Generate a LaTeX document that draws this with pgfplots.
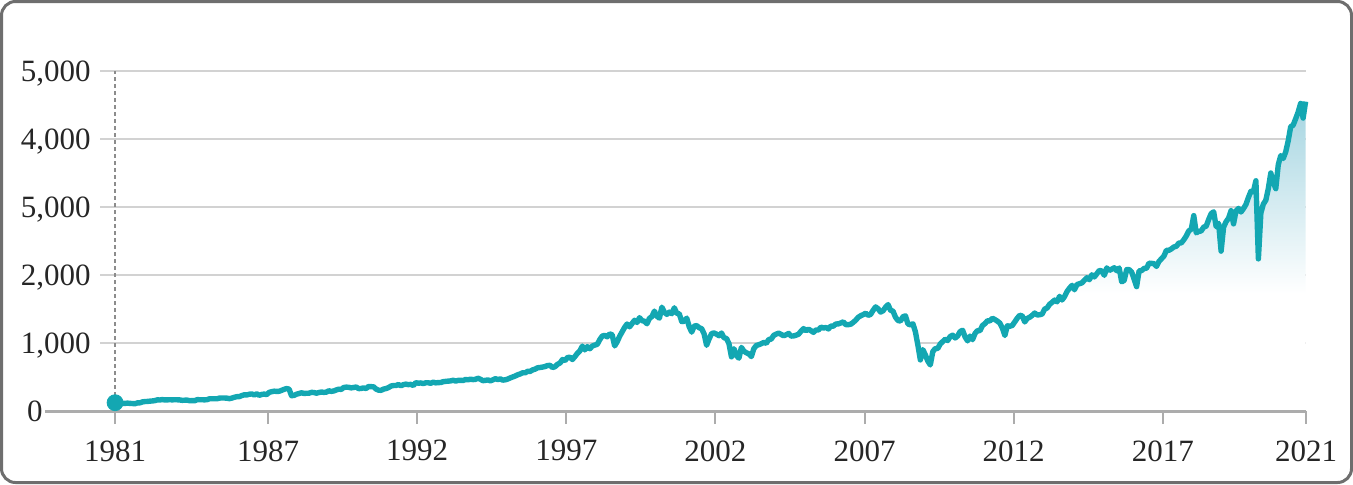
\documentclass[border=0pt]{standalone}
\usepackage{pgfplots}
\pgfplotsset{compat=1.18}
\usepackage{pgfplotstable}
\usepackage{fontspec}
\setmainfont{Liberation Serif}

\definecolor{spteal}{RGB}{19,167,178}
\definecolor{spfill}{RGB}{165,213,225}
\definecolor{gridgray}{RGB}{210,210,210}
\definecolor{axisgray}{RGB}{172,172,172}
\definecolor{framegray}{RGB}{110,110,110}
\definecolor{dashgray}{RGB}{140,140,140}

% fades to white at about the 1,700 level
\pgfdeclareverticalshading{spshade}{100bp}{color(0bp)=(white); color(44bp)=(white); color(75bp)=(spfill); color(100bp)=(spfill)}

% S&P 500, monthly, Nov 1981 - Oct 2021
\pgfplotstableread[header=false,row sep=\\]{
125\\122\\
120\\113\\112\\116\\112\\110\\107\\120\\120\\134\\139\\141\\
145\\148\\153\\164\\162\\168\\163\\164\\166\\164\\166\\165\\
163\\157\\159\\160\\151\\153\\151\\167\\166\\166\\164\\167\\
180\\181\\181\\180\\190\\192\\191\\189\\182\\190\\202\\211\\
212\\227\\239\\236\\247\\251\\236\\253\\231\\244\\249\\242\\
274\\284\\292\\288\\290\\304\\319\\330\\322\\225\\230\\247\\
257\\268\\259\\261\\262\\274\\272\\262\\272\\279\\274\\278\\
297\\289\\295\\310\\321\\318\\346\\351\\349\\340\\346\\353\\
329\\332\\340\\331\\361\\358\\356\\323\\306\\304\\322\\330\\
344\\367\\375\\375\\390\\371\\388\\395\\388\\392\\375\\417\\
409\\413\\404\\415\\415\\408\\424\\414\\418\\419\\431\\436\\
439\\443\\452\\440\\450\\451\\448\\464\\459\\468\\462\\466\\
482\\467\\446\\451\\457\\444\\458\\475\\463\\472\\454\\459\\
470\\487\\501\\515\\533\\545\\562\\562\\584\\582\\605\\616\\
636\\640\\646\\654\\669\\671\\640\\652\\687\\705\\757\\741\\
786\\791\\757\\801\\848\\885\\954\\899\\947\\915\\955\\970\\
980\\1049\\1102\\1112\\1091\\1134\\1121\\957\\1017\\1099\\1164\\1229\\
1280\\1238\\1286\\1335\\1302\\1373\\1329\\1320\\1283\\1363\\1389\\1469\\
1394\\1366\\1527\\1452\\1421\\1455\\1431\\1518\\1437\\1429\\1315\\1320\\
1366\\1240\\1160\\1249\\1256\\1224\\1211\\1134\\966\\1060\\1139\\1148\\
1130\\1107\\1147\\1077\\1067\\990\\797\\916\\815\\777\\936\\880\\
856\\841\\800\\917\\964\\975\\990\\1008\\996\\1051\\1058\\1112\\
1131\\1145\\1126\\1107\\1121\\1141\\1102\\1104\\1115\\1130\\1174\\1212\\
1181\\1204\\1181\\1157\\1192\\1191\\1234\\1220\\1229\\1207\\1249\\1248\\
1280\\1281\\1295\\1311\\1270\\1270\\1277\\1304\\1336\\1378\\1401\\1418\\
1438\\1407\\1421\\1482\\1531\\1503\\1455\\1474\\1527\\1565\\1481\\1468\\
1379\\1331\\1323\\1386\\1400\\1280\\1267\\1283\\1166\\969\\752\\903\\
826\\735\\677\\873\\919\\919\\987\\1021\\1057\\1036\\1096\\1115\\
1074\\1104\\1169\\1187\\1089\\1031\\1102\\1049\\1141\\1183\\1181\\1258\\
1286\\1327\\1326\\1364\\1345\\1321\\1292\\1219\\1110\\1253\\1247\\1258\\
1312\\1366\\1408\\1398\\1310\\1362\\1379\\1407\\1441\\1412\\1416\\1426\\
1498\\1515\\1569\\1598\\1631\\1606\\1686\\1633\\1682\\1757\\1806\\1848\\
1783\\1859\\1872\\1884\\1924\\1960\\1931\\2003\\1972\\2018\\2068\\2059\\
1995\\2105\\2068\\2086\\2107\\2063\\2104\\1900\\1920\\2079\\2080\\2044\\
1940\\1829\\2060\\2065\\2097\\2099\\2174\\2171\\2168\\2126\\2199\\2239\\
2279\\2364\\2363\\2384\\2412\\2423\\2470\\2472\\2519\\2575\\2648\\2674\\
2873\\2620\\2641\\2648\\2705\\2718\\2816\\2902\\2930\\2712\\2760\\2351\\
2704\\2784\\2834\\2946\\2752\\2942\\2980\\2926\\2977\\3038\\3141\\3231\\
3226\\3386\\2237\\2912\\3044\\3100\\3271\\3500\\3363\\3270\\3622\\3756\\
3714\\3811\\3973\\4181\\4204\\4298\\4395\\4523\\4308\\4550\\
}\spx

\begin{document}
\begin{tikzpicture}
\draw[framegray, line width=1.5pt, rounded corners=7pt] (0.75pt,0.75pt) rectangle (675.75pt,241.25pt);
\begin{axis}[
  at={(22.5pt,36.5pt)}, anchor=south west,
  scale only axis, width=630.5pt, height=170pt,
  xmin=1979.52, xmax=2021.8, ymin=0, ymax=5000,
  axis line style={draw=none},
  tick pos=left,
  xtick={1981.87,1987,1992,1997,2002,2007,2012,2017,2021.8},
  xticklabels={1981,1987,1992,1997,2002,2007,2012,2017,2021},
  xtick align=outside,
  major tick length=6.5pt,
  xtick style={axisgray, line width=1pt},
  ytick={0,1000,2000,3000,4000,5000},
  yticklabels={\makebox[0pt][r]{0\hspace*{23.5pt}},{1,000},{2,000},{5,000},{4,000},{5,000}},
  ytick style={draw=none},
  ticklabel style={font=\fontsize{15.5}{18}\selectfont, text=black!85, inner sep=0pt},
  yticklabel style={anchor=base east, xshift=23pt, yshift=-5.1pt},
  xticklabel style={anchor=north, yshift=-8pt},
  clip=false,
]
\draw[gridgray, line width=1pt] (axis cs:1981.37,1000) -- (axis cs:2021.8,1000);
\draw[gridgray, line width=1pt] (axis cs:1981.37,2000) -- (axis cs:2021.8,2000);
\draw[gridgray, line width=1pt] (axis cs:1981.37,3000) -- (axis cs:2021.8,3000);
\draw[gridgray, line width=1pt] (axis cs:1981.37,4000) -- (axis cs:2021.8,4000);
\draw[gridgray, line width=1pt] (axis cs:1981.37,5000) -- (axis cs:2021.8,5000);
\addplot [draw=none, shading=spshade]
  table [x expr=1981.87+\coordindex/12, y index=0] {\spx} \closedcycle;
\draw[axisgray, line width=1.5pt] (axis cs:1979.52,0) -- (axis cs:2021.8,0);
\draw[dashgray, line width=1pt, dash pattern=on 2pt off 1.5pt] (axis cs:1981.87,122) -- (axis cs:1981.87,5000);
\addplot [spteal, line width=2.7pt, line join=round]
  table [x expr=1981.87+\coordindex/12, y index=0] {\spx};
\addplot [only marks, mark=*, mark size=4pt, spteal] coordinates {(1981.87,122)};
\end{axis}
\end{tikzpicture}
\end{document}
